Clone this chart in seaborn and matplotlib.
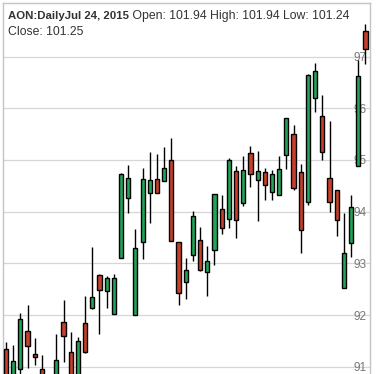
import matplotlib
matplotlib.use("Agg")
import matplotlib.pyplot as plt
import seaborn as sns
import numpy as np
import pandas as pd

# ---- data ----
opens = [91.35, 90.70, 90.96, 91.70, 91.24, 90.95, 90.60, 90.70, 91.86, 91.29,
         90.80, 91.85, 92.14, 92.78, 92.47, 92.02, 93.10, 94.26, 92.01, 93.41,
         94.36, 94.63, 94.59, 95.00, 93.41, 92.64, 93.16, 93.45, 92.83, 93.26,
         94.05, 93.86, 94.78, 94.17, 95.13, 94.61, 94.76, 94.38, 94.32, 95.09,
         95.50, 94.76, 94.18, 96.19, 95.85, 94.65, 94.42, 92.53, 93.39, 94.88,
         97.49]
closes = [90.70, 91.12, 91.93, 91.41, 91.19, 90.70, 90.80, 91.14, 91.60, 90.80,
          91.50, 91.28, 92.35, 92.49, 92.72, 92.72, 94.73, 94.65, 93.30, 94.63,
          94.61, 94.36, 94.84, 93.43, 92.43, 92.87, 93.92, 92.87, 93.05, 94.34,
          93.68, 95.00, 93.84, 94.80, 94.73, 94.78, 94.51, 94.73, 94.82, 95.81,
          94.46, 93.64, 96.64, 96.73, 95.15, 94.19, 93.84, 93.20, 94.09, 96.62,
          97.14]
highs = [91.48, 91.43, 92.04, 92.20, 91.55, 91.22, 90.84, 91.64, 92.30, 91.68,
         91.58, 92.36, 93.32, 92.80, 92.76, 92.80, 94.75, 94.91, 93.67, 94.84,
         95.15, 95.12, 95.25, 95.42, 93.41, 93.11, 94.02, 93.71, 93.34, 94.35,
         94.32, 95.03, 94.88, 95.07, 95.27, 95.18, 94.84, 94.80, 95.07, 95.82,
         95.67, 94.92, 96.66, 96.87, 96.25, 95.76, 94.42, 93.97, 94.32, 96.93,
         97.62]
lows = [90.50, 90.50, 90.80, 90.98, 91.03, 90.50, 90.40, 90.50, 91.09, 90.50,
        90.60, 91.26, 92.12, 91.63, 92.13, 92.02, 93.10, 93.98, 92.00, 93.08,
        93.79, 94.36, 94.59, 93.43, 92.20, 92.32, 93.05, 92.85, 92.36, 92.96,
        93.56, 93.68, 93.50, 94.10, 94.47, 93.81, 94.22, 94.22, 94.32, 94.82,
        94.42, 93.21, 94.12, 95.93, 95.00, 94.00, 93.52, 92.53, 93.12, 94.88,
        96.85]
ytick_values = [91, 92, 93, 94, 95, 96, 97]
title_bold = "AON:DailyJul 24, 2015"
title_rest = " Open: 101.94 High: 101.94 Low: 101.24"
title_line2 = "Close: 101.25"

df = pd.DataFrame({"open": opens, "close": closes, "high": highs, "low": lows})
df["idx"] = np.arange(1, len(df) + 1)
df["up"] = df["close"] >= df["open"]

sns.set_theme(style="white")
plt.rcParams["font.family"] = ["Liberation Sans", "DejaVu Sans"]

GREEN = "#24a458"
RED = "#c8402b"

fig = plt.figure(figsize=(3.76, 3.74), dpi=100)
W, H = 376, 374
ax = fig.add_axes([2.7 / W, 0, (369.5 - 2.7) / W, 1 - 3.3 / H])

# grid
for v in ytick_values:
    ax.axhline(v, color="#d6d6d6", lw=0.9, zorder=0)

# wicks
ax.vlines(df["idx"], df["low"], df["high"], color="black", lw=1.0, zorder=2)
# bodies
bottoms = np.minimum(df["open"], df["close"])
heights = np.abs(df["close"] - df["open"])
colors = [GREEN if u else RED for u in df["up"]]
ax.bar(df["idx"], heights, bottom=bottoms, width=0.58, color=colors,
       edgecolor="black", linewidth=1.0, zorder=3)

ax.set_xlim(0.541, 51.56)
ax.set_ylim(90.86, 98.03)
ax.set_xticks([])
ax.set_yticks(ytick_values)
ax.set_yticklabels([str(v) for v in ytick_values])
ax.yaxis.tick_right()
ax.tick_params(axis="y", length=0, pad=-2.0, labelsize=8.5, labelcolor="#777777")
for lab in ax.get_yticklabels():
    lab.set_horizontalalignment("right")
    lab.set_zorder(1)
ax.set_xlabel("")
ax.set_ylabel("")
ax.grid(False)

for side in ["left", "top", "right"]:
    ax.spines[side].set_visible(True)
    ax.spines[side].set_color("#c4c4c4")
    ax.spines[side].set_linewidth(1.0)
ax.spines["bottom"].set_visible(False)

# header text
t1 = fig.text(8.3 / W, 1 - 15.7 / H, title_bold, fontsize=8.2, fontweight="bold",
              color="#333333", va="center", ha="left")
fig.canvas.draw()
bb = t1.get_window_extent()
fig.text(bb.x1 / W, 1 - 15.7 / H, title_rest, fontsize=8.8, color="#333333",
         va="center", ha="left")
fig.text(8.3 / W, 1 - 31.7 / H, title_line2, fontsize=8.8, color="#333333",
         va="center", ha="left")

fig.savefig("out.png", dpi=100)
